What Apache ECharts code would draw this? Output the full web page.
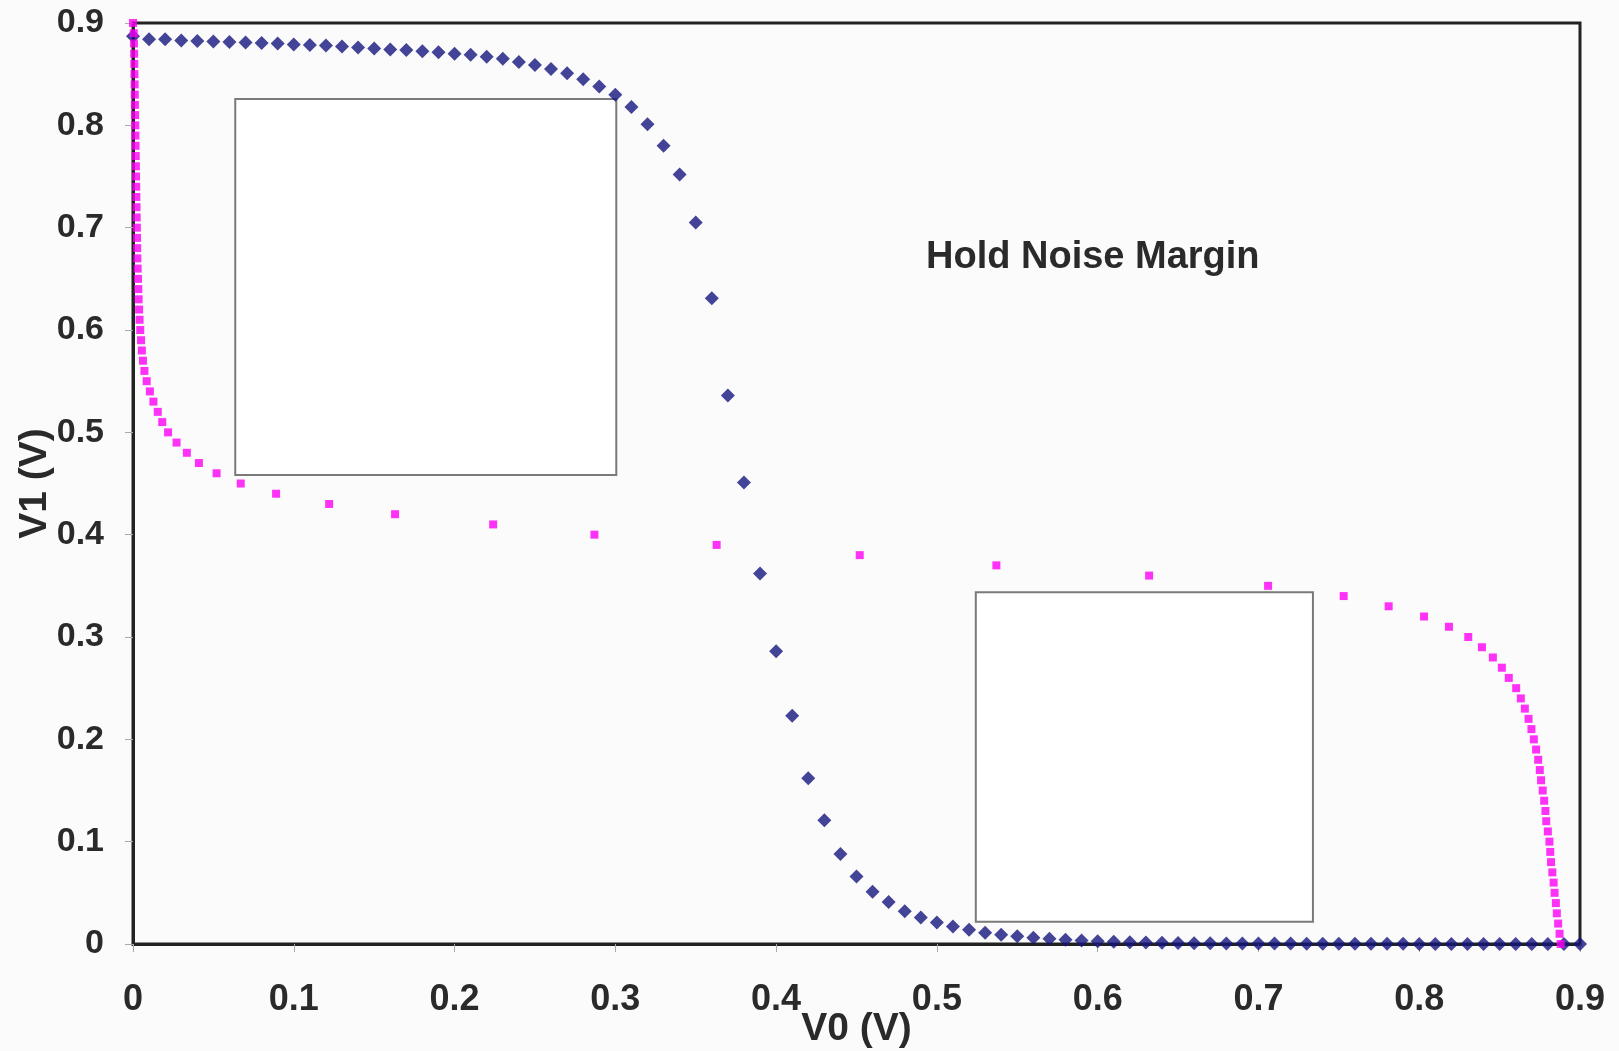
<!DOCTYPE html>
<html>
<head>
<meta http-equiv="Content-Type" content="text/html; charset=UTF-8"/>
<title>Hold Noise Margin</title>
<script src="https://cdn.jsdelivr.net/npm/echarts@6/dist/echarts.min.js" type="text/javascript"></script>
<style>
html, body { margin:0; padding:0; background:#fbfbfb; }
#placeholder { width:1619px; height:1051px; }
</style>
</head>
<body>
<div id="placeholder"></div>
<script type="text/javascript">
// V0 sweep and V1 response of the first inverter (diamonds)
var v0Sweep = [0,0.01,0.02,0.03,0.04,0.05,0.06,0.07,0.08,0.09,
  0.1,0.11,0.12,0.13,0.14,0.15,0.16,0.17,0.18,0.19,
  0.2,0.21,0.22,0.23,0.24,0.25,0.26,0.27,0.28,0.29,
  0.3,0.31,0.32,0.33,0.34,0.35,0.36,0.37,0.38,0.39,
  0.4,0.41,0.42,0.43,0.44,0.45,0.46,0.47,0.48,0.49,
  0.5,0.51,0.52,0.53,0.54,0.55,0.56,0.57,0.58,0.59,
  0.6,0.61,0.62,0.63,0.64,0.65,0.66,0.67,0.68,0.69,
  0.7,0.71,0.72,0.73,0.74,0.75,0.76,0.77,0.78,0.79,
  0.8,0.81,0.82,0.83,0.84,0.85,0.86,0.87,0.88,0.89,0.9];
var v1Out = [0.887,0.884,0.884,0.883,0.8825,0.882,0.8815,0.881,0.8805,0.880,
  0.879,0.8785,0.878,0.877,0.876,0.875,0.874,0.8735,0.8725,0.8715,
  0.870,0.869,0.867,0.865,0.862,0.859,0.855,0.851,0.845,0.838,
  0.830,0.818,0.801,0.780,0.752,0.705,0.631,0.536,0.451,0.362,
  0.286,0.223,0.162,0.121,0.088,0.066,0.051,0.041,0.032,0.026,
  0.021,0.017,0.014,0.011,0.009,0.0075,0.0062,0.0052,0.0042,0.0034,
  0.0027,0.0022,0.0018,0.0015,0.0012,0.001,0.0008,0.0007,0.0006,0.0005,
  0.0005,0.0004,0.0004,0.0003,0.0003,0.0003,0.0002,0.0002,0.0002,0.0002,
  0.0001,0.0001,0.0001,0.0001,0.0001,0.0001,0,0,0,0,0];

// V1 sweep and V0 response of the second inverter (squares)
var v1Sweep = [0.9,0.89,0.88,0.87,0.86,0.85,0.84,0.83,0.82,0.81,
  0.8,0.79,0.78,0.77,0.76,0.75,0.74,0.73,0.72,0.71,
  0.7,0.69,0.68,0.67,0.66,0.65,0.64,0.63,0.62,0.61,
  0.6,0.59,0.58,0.57,0.56,0.55,0.54,0.53,0.52,0.51,
  0.5,0.49,0.48,0.47,0.46,0.45,0.44,0.43,0.42,0.41,
  0.4,0.39,0.38,0.37,0.36,0.35,0.34,0.33,0.32,0.31,
  0.3,0.29,0.28,0.27,0.26,0.25,0.24,0.23,0.22,0.21,
  0.2,0.19,0.18,0.17,0.16,0.15,0.14,0.13,0.12,0.11,
  0.1,0.09,0.08,0.07,0.06,0.05,0.04,0.03,0.02,0.01,0];
var v0Out = [0,0.0005,0.0006,0.0007,0.0008,0.0009,0.001,0.0011,0.0012,0.0013,
  0.0014,0.0015,0.0016,0.0017,0.0018,0.0019,0.002,0.0021,0.0022,0.0023,
  0.0024,0.0025,0.0026,0.0027,0.0029,0.0031,0.0033,0.0035,0.0038,0.0041,
  0.0045,0.005,0.0055,0.0062,0.0071,0.0085,0.0105,0.0127,0.0154,0.0182,
  0.0218,0.0271,0.0335,0.041,0.052,0.067,0.089,0.122,0.163,0.224,
  0.287,0.363,0.452,0.537,0.632,0.706,0.753,0.781,0.803,0.8185,
  0.8305,0.839,0.8458,0.8514,0.8557,0.8603,0.8632,0.8657,0.868,0.8698,
  0.8713,0.8727,0.874,0.875,0.8758,0.8768,0.8777,0.8785,0.879,0.88,
  0.881,0.8815,0.882,0.8828,0.8836,0.8842,0.885,0.8856,0.8864,0.8873,0.888];

// noise margin boxes: [x1, y1, x2, y2]
var boxLow = [0.0636, 0.8258, 0.3006, 0.4583];
var boxHigh = [0.5242, 0.3437, 0.7339, 0.0218];

var axisTicks = [0, 0.9, 0.1];

var blueData = [];
for (var i = 0; i < v0Sweep.length; i++) blueData.push([v0Sweep[i], v1Out[i]]);
var pinkData = [];
for (var j = 0; j < v1Sweep.length; j++) pinkData.push([v0Out[j], v1Sweep[j]]);

var myChart = echarts.init(document.getElementById('placeholder'));
var font = 'Liberation Sans, Arial, sans-serif';
var option = {
  backgroundColor: '#fbfbfb',
  animation: false,
  grid: {
    left: 133, right: 39, top: 23, bottom: 107,
    containLabel: false, outerBoundsMode: 'none',
    show: true, borderColor: '#222', borderWidth: 3, backgroundColor: 'transparent'
  },
  xAxis: {
    type: 'value', min: axisTicks[0], max: axisTicks[1], interval: axisTicks[2],
    name: 'V0 (V)', nameLocation: 'middle', nameGap: 66, nameMoveOverlap: false,
    nameTextStyle: { fontFamily: font, fontWeight: 'bold', fontSize: 39, color: '#2a2a2a' },
    axisLine: { show: true, lineStyle: { color: '#222', width: 3 } },
    axisTick: { show: true, length: 8, lineStyle: { color: '#aaa', width: 1 } },
    axisLabel: { margin: 38, fontFamily: font, fontWeight: 'bold', fontSize: 36, color: '#2a2a2a' },
    splitLine: { show: false }
  },
  yAxis: {
    type: 'value', min: axisTicks[0], max: axisTicks[1], interval: axisTicks[2],
    name: 'V1 (V)', nameLocation: 'middle', nameGap: 78, nameMoveOverlap: false,
    nameTextStyle: { fontFamily: font, fontWeight: 'bold', fontSize: 39, color: '#2a2a2a' },
    axisLine: { show: true, lineStyle: { color: '#222', width: 3 } },
    axisTick: { show: true, length: 8, lineStyle: { color: '#aaa', width: 1 } },
    axisLabel: { margin: 29, fontFamily: font, fontWeight: 'bold', fontSize: 34, color: '#2a2a2a' },
    splitLine: { show: false }
  },
  graphic: [{
    type: 'text', left: 926, top: 239,
    style: { text: 'Hold Noise Margin', fontFamily: font, fontWeight: 'bold', fontSize: 38, fill: '#2a2a2a' }
  }],
  series: [
    {
      name: 'boxes', type: 'scatter', data: [], z: 1, silent: true,
      markArea: {
        silent: true,
        itemStyle: { color: '#ffffff', borderColor: '#7a7a7a', borderWidth: 2 },
        data: [
          [{ coord: [boxLow[0], boxLow[1]] }, { coord: [boxLow[2], boxLow[3]] }],
          [{ coord: [boxHigh[0], boxHigh[1]] }, { coord: [boxHigh[2], boxHigh[3]] }]
        ]
      }
    },
    {
      name: 'V1', type: 'scatter', data: blueData, z: 3, clip: false,
      symbol: 'diamond', symbolSize: [14, 14],
      itemStyle: { color: '#15157e' }
    },
    {
      name: 'V0', type: 'scatter', data: pinkData, z: 4, clip: false,
      symbol: 'rect', symbolSize: [8, 8],
      itemStyle: { color: '#ff00f6' }
    }
  ]
};
myChart.setOption(option);
</script>
</body>
</html>
